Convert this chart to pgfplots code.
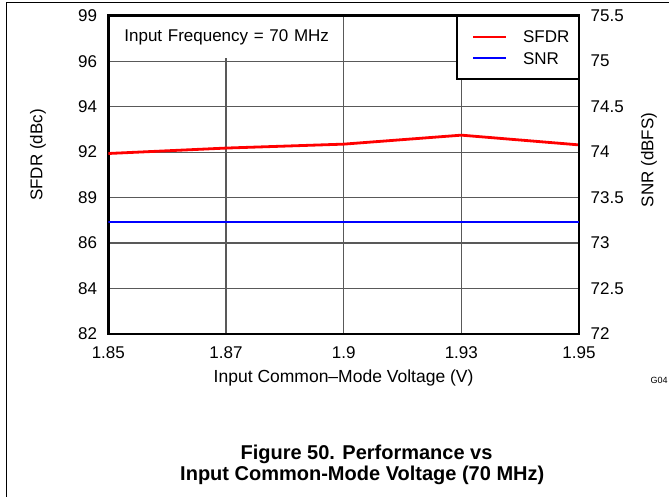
\documentclass[border=0pt]{standalone}
\usepackage{pgfplots}
\usepackage{pgfplotstable}
\pgfplotsset{compat=1.18}
\usepackage{fontspec}
\setmainfont{Liberation Sans}
\newcommand{\fs}[1]{\fontsize{#1}{#1}\selectfont}

\pgfplotstableread{
x sfdr
1.85 91.64
1.875 91.93
1.9 92.14
1.925 92.62
1.95 92.10
}\sfdrdata
\pgfplotstableread{
x snr
1.85 73.23
1.875 73.23
1.9 73.23
1.925 73.23
1.95 73.23
}\snrdata

\pgfplotsset{common/.style={
  scale only axis, width=470.7pt, height=318.3pt,
  at={(108.3pt,-334pt)}, anchor=south west,
  xmin=1.85, xmax=1.95, xtick={1.85,1.875,1.9,1.925,1.95},
  /pgf/number format/assume math mode=true,
  ticklabel style={font=\fs{17}},
  major tick length=0pt,
  axis line style={line width=2.6pt},
}}

\begin{document}
\begin{tikzpicture}
\useasboundingbox (0pt,0pt) rectangle (669pt,-497pt);
\fill[white] (0pt,0pt) rectangle (669pt,-497pt);
\draw[line width=1.3pt] (6.5pt,-497pt) -- (6.5pt,-2.3pt) -- (669pt,-2.3pt);

\begin{axis}[common,
  ymin=82, ymax=99,
  ytick={82,84.428571,86.857143,89.285714,91.714286,94.142857,96.571429,99},
  yticklabels={82,84,86,89,92,94,96,99},
  xticklabels={1.85,1.87,1.9,1.93,1.95},
  yticklabel style={anchor=east, inner sep=0pt, xshift=-11pt},
  xticklabel style={anchor=north, inner sep=0pt, yshift=-12pt},
  grid=major, major grid style={line width=1.2pt, color=black!65},
  legend style={at={(1,1)}, anchor=north east, draw=black, line width=1.3pt,
    fill=white, inner xsep=9pt, inner ysep=14.5pt, row sep=9.6pt, column sep=15.7pt,
    font=\fs{17}, nodes={inner sep=0pt, text height=12pt, text depth=0pt, anchor=west}},
  legend image code/.code={\path (0pt,0pt); \draw[#1, line width=2pt] (6pt,0pt) -- (39pt,0pt);},
]
\addplot[red, line width=2.8pt] table[x=x,y=sfdr]{\sfdrdata};
\addlegendentry{SFDR}
\addlegendimage{blue, line width=2.2pt}
\addlegendentry{SNR}
\node[anchor=north west, fill=white, inner sep=0pt, minimum height=41pt,
  text width=228pt, align=left, font=\fs{17}] at (rel axis cs:0,1)
  [xshift=1.4pt, yshift=-1.4pt] {\hspace*{14.5pt}Input Frequency = 70 MHz};
\end{axis}

\begin{axis}[common, axis x line=none, axis y line*=right,
  ymin=72, ymax=75.5,
  ytick={72,72.5,73,73.5,74,74.5,75,75.5},
  yticklabels={72,72.5,73,73.5,74,74.5,75,75.5},
  yticklabel style={anchor=west, inner sep=0pt, xshift=11.5pt},
]
\addplot[blue, line width=2.2pt] table[x=x,y=snr]{\snrdata};
\end{axis}

\node[rotate=90, font=\fs{17}] at (38pt,-155pt) {SFDR (dBc)};
\node[rotate=90, font=\fs{17}] at (649pt,-160pt) {SNR (dBFS)};
\node[font=\fs{17.5}] at (343.6pt,-378pt) {Input Common–Mode Voltage (V)};
\node[font=\fs{9}] at (659pt,-380pt) {G04};
\node[anchor=base west, font=\bfseries\fs{20}] at (237pt,-459pt) {Figure 50. Performance vs};
\node[anchor=base west, font=\bfseries\fs{20}] at (176.7pt,-480pt) {Input Common-Mode Voltage (70 MHz)};
\end{tikzpicture}
\end{document}
